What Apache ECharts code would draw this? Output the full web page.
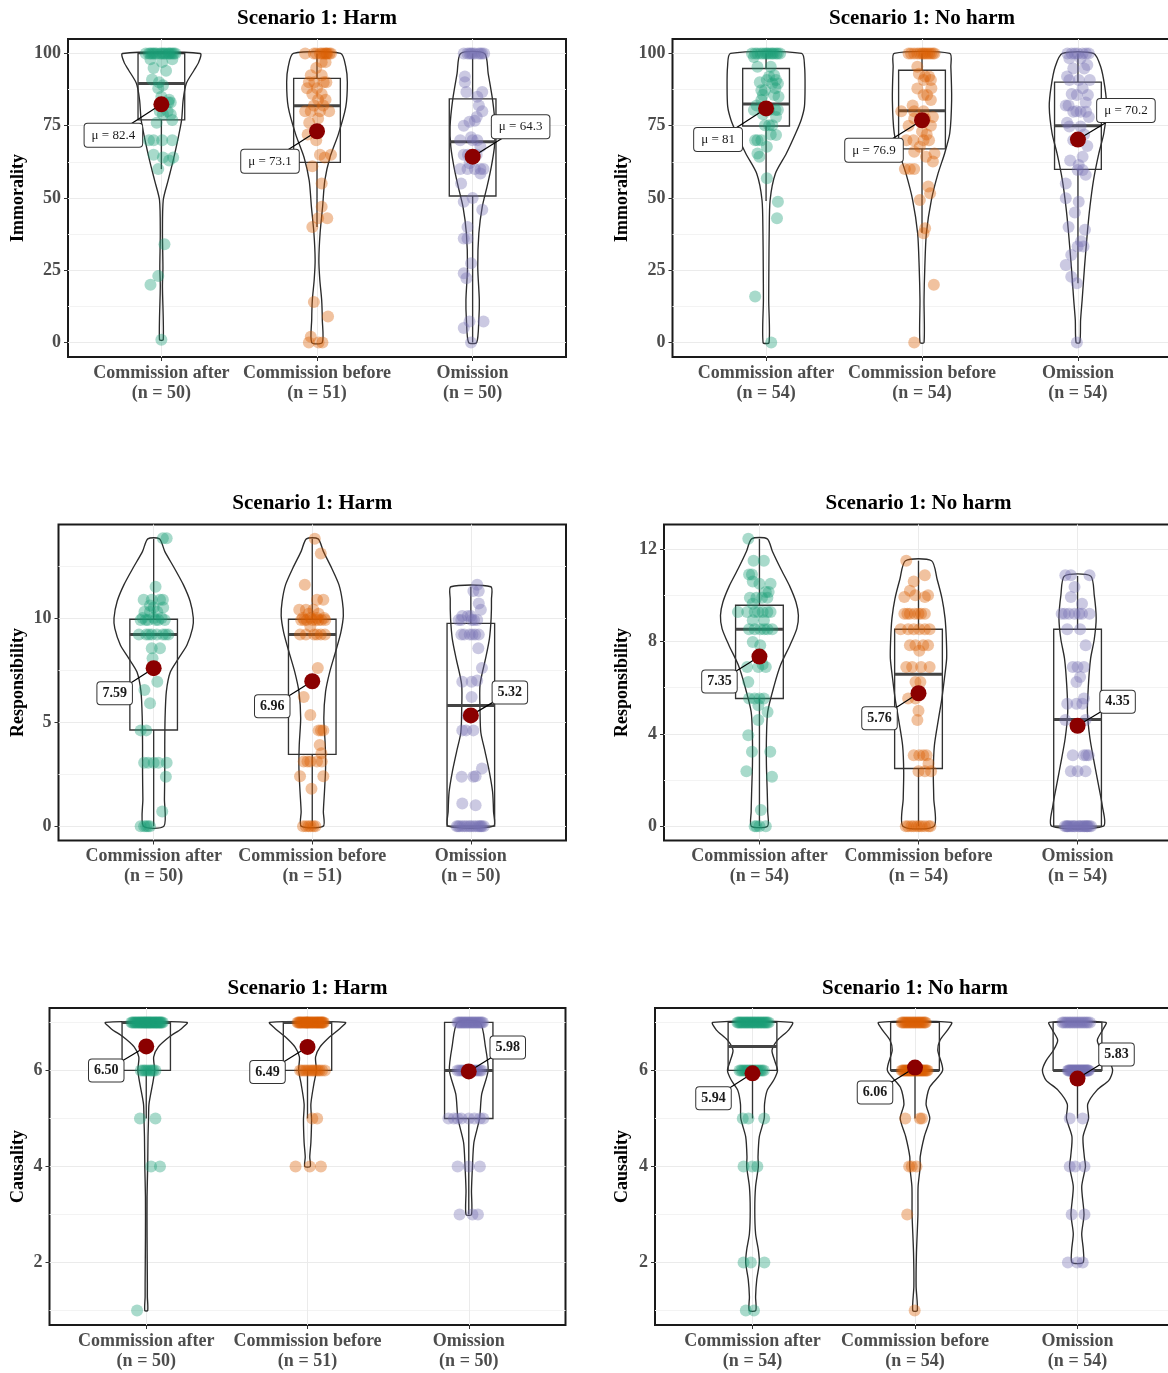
<!DOCTYPE html>
<html><head><meta charset="utf-8">
<script src="https://cdn.jsdelivr.net/npm/echarts@6/dist/echarts.min.js"></script>
<style>html,body{margin:0;padding:0;background:#fff}#c{width:1168px;height:1373px}</style>
</head><body><div id="c"></div>
<script>
// ---------------- DATA ----------------
const categories = ['Commission after', 'Commission before', 'Omission'];
const nHarm = [50, 51, 50];
const nNoHarm = [54, 54, 54];

const immTicks = [0, 25, 50, 75, 100];
const immMinor = [12.5, 37.5, 62.5, 87.5];
const respHarmTicks = [0, 5, 10];
const respHarmMinor = [2.5, 7.5, 12.5];
const respNoHarmTicks = [0, 4, 8, 12];
const respNoHarmMinor = [2, 6, 10];
const causTicks = [2, 4, 6];
const causMinor = [1, 3, 5, 7];

// means
const immHarmMean = [82.4, 73.1, 64.3];
const immNoHarmMean = [81, 76.9, 70.2];
const respHarmMean = [7.59, 6.96, 5.32];
const respNoHarmMean = [7.35, 5.76, 4.35];
const causHarmMean = [6.50, 6.49, 5.98];
const causNoHarmMean = [5.94, 6.06, 5.83];

// boxplot stats: [lower whisker, Q1, median, Q3, upper whisker]
const immHarmBox = [[60, 77, 89.6, 100, 100], [40, 62.3, 81.9, 91.4, 100], [0, 50.7, 69.5, 84.3, 100]];
const immNoHarmBox = [[49, 74.9, 82.5, 94.8, 100], [38, 67, 80.2, 94.2, 100], [20.5, 59.9, 75, 90.1, 100]];
const respHarmBox = [[0, 4.62, 9.21, 9.94, 13.8], [0, 3.45, 9.21, 9.94, 13.8], [0, 0, 5.79, 9.74, 11.5]];
const respNoHarmBox = [[0, 5.53, 8.53, 9.57, 12.45], [0, 2.5, 6.58, 8.53, 11.5], [0, 0, 4.62, 8.53, 10.84]];
const causHarmBox = [[5, 6, 7, 7, 7], [5, 6, 7, 7, 7], [3, 5, 6, 7, 7]];
const causNoHarmBox = [[5, 6, 6.5, 7, 7], [5, 6, 6, 7, 7], [5, 6, 6, 7, 7]];

// violin profiles: [value, half-width in category units]
const immHarmViolinCA = [[1,0.012],[19.4,0.007],[26,0.01],[37.8,0.007],[49.3,0.012],[56,0.043],[63,0.076],[70,0.105],[77,0.13],[83.9,0.14],[89.6,0.16],[94.2,0.21],[97,0.24],[100,0.25]];
const immHarmViolinCB = [[0,0.034],[8,0.034],[14.7,0.03],[21.7,0.018],[28.6,0.012],[38,0.02],[47,0.036],[56,0.05],[64,0.083],[72,0.137],[81.5,0.185],[90,0.195],[95.4,0.185],[100,0.152]];
const immHarmViolinOm = [[0,0.026],[8,0.04],[14.7,0.043],[26,0.033],[37.8,0.04],[47,0.062],[54,0.093],[60.8,0.12],[67.7,0.14],[74.6,0.145],[84,0.128],[93,0.1],[100,0.077]];
const immNoHarmViolinCA = [[0,0.019],[14.7,0.017],[26,0.018],[37.8,0.02],[49.3,0.026],[58.5,0.06],[65.4,0.13],[72.4,0.19],[77,0.225],[81.6,0.246],[88.5,0.25],[95.4,0.247],[100,0.228]];
const immNoHarmViolinCB = [[0,0.013],[14.7,0.013],[26,0.018],[37.8,0.028],[49.3,0.06],[58.5,0.103],[65.4,0.145],[72.4,0.178],[83.9,0.19],[95.4,0.185],[100,0.178]];
const immNoHarmViolinOm = [[0,0.012],[7.8,0.017],[14.7,0.027],[26,0.042],[37.8,0.06],[47,0.077],[56.2,0.1],[65.4,0.134],[72.4,0.166],[81.6,0.184],[88.5,0.172],[95.4,0.146],[100,0.1]];
const respHarmViolinCA = [[0,0.065],[1.3,0.068],[2.6,0.07],[3.9,0.07],[5.2,0.072],[6.46,0.08],[7.4,0.105],[8.06,0.157],[8.7,0.21],[9.5,0.245],[10,0.25],[10.8,0.23],[11.6,0.187],[12.4,0.13],[13.2,0.07],[13.8,0.037]];
const respHarmViolinCB = [[0,0.07],[0.69,0.07],[1.65,0.077],[2.77,0.084],[3.9,0.082],[5.2,0.073],[6.46,0.084],[7.4,0.11],[8.4,0.148],[9.3,0.18],[10.1,0.196],[10.8,0.19],[11.6,0.168],[12.4,0.122],[13.2,0.07],[13.8,0.037]];
const respHarmViolinOm = [[0,0.143],[0.7,0.143],[1.65,0.137],[2.6,0.117],[3.57,0.09],[4.5,0.063],[5.5,0.058],[6.8,0.058],[8.06,0.093],[9.0,0.117],[10.0,0.128],[10.9,0.13],[11.5,0.126]];
const respNoHarmViolinCA = [[0,0.051],[0.62,0.052],[1.49,0.049],[2.64,0.044],[3.8,0.044],[4.95,0.052],[6.1,0.093],[7.0,0.134],[7.84,0.192],[8.56,0.235],[9.13,0.245],[9.7,0.23],[10.4,0.19],[11.15,0.134],[11.9,0.082],[12.45,0.049]];
const respNoHarmViolinCB = [[0,0.098],[1.2,0.096],[2.35,0.093],[3.5,0.1],[4.66,0.126],[5.53,0.147],[6.4,0.163],[7.27,0.177],[8.1,0.175],[9.0,0.167],[9.86,0.148],[10.7,0.117],[11.5,0.082]];
const respNoHarmViolinOm = [[0,0.163],[0.9,0.155],[1.77,0.132],[2.64,0.108],[3.8,0.078],[4.95,0.062],[6.1,0.068],[7.26,0.082],[8.1,0.105],[9.0,0.117],[10.0,0.105],[10.84,0.082]];
const causHarmViolinCA = [[1,0.009],[1.29,0.007],[1.57,0.007],[2.54,0.005],[3.37,0.005],[4.0,0.009],[4.62,0.011],[4.97,0.014],[5.3,0.017],[5.73,0.04],[6.0,0.052],[6.28,0.046],[6.49,0.075],[6.7,0.144],[6.87,0.218],[7,0.253]];
const causHarmViolinCB = [[4,0.017],[4.2,0.014],[4.5,0.021],[4.97,0.025],[5.3,0.021],[5.73,0.04],[6.0,0.055],[6.28,0.05],[6.49,0.078],[6.7,0.138],[6.87,0.2],[7,0.235]];
const causHarmViolinOm = [[3,0.017],[3.5,0.017],[4,0.023],[4.5,0.032],[5,0.067],[5.5,0.08],[6,0.12],[6.5,0.103],[7,0.069]];
const causNoHarmViolinCA = [[1,0.02],[1.29,0.019],[1.64,0.026],[2,0.042],[2.26,0.036],[2.6,0.019],[3.1,0.014],[3.58,0.019],[4,0.036],[4.2,0.034],[4.62,0.042],[5,0.072],[5.3,0.074],[5.59,0.091],[5.8,0.131],[6,0.154],[6.2,0.137],[6.42,0.12],[6.63,0.154],[6.84,0.222],[7,0.245]];
const causNoHarmViolinCB = [[1,0.014],[1.5,0.007],[2.2,0.009],[3,0.018],[3.58,0.019],[4,0.032],[4.2,0.032],[4.62,0.057],[5,0.091],[5.3,0.068],[5.65,0.09],[6,0.17],[6.42,0.14],[6.63,0.154],[6.84,0.2],[7,0.224]];
const causNoHarmViolinOm = [[2,0.034],[2.26,0.036],[2.6,0.026],[3,0.04],[3.58,0.026],[4,0.049],[4.2,0.042],[4.62,0.034],[5,0.068],[5.3,0.063],[5.59,0.12],[5.8,0.194],[6,0.216],[6.2,0.194],[6.42,0.148],[6.63,0.122],[6.84,0.154],[7,0.175]];

// individual responses: [value, horizontal jitter in category units]
const immHarmPtsCA = [[100,-0.10],[100,-0.08],[100,-0.07],[100,-0.05],[100,-0.04],[100,-0.03],[100,-0.01],[100,0.00],[100,0.01],[100,0.02],[100,0.03],[100,0.045],[100,0.06],[100,0.07],[100,0.08],[100,0.09],[100,-0.06],[100,0.05],[98,-0.07],[97,0.005],[98,0.07],[95,-0.05],[94,0.03],[91,-0.06],[90,-0.015],[88,-0.02],[89,0.01],[85,0.0],[84,0.05],[83,0.045],[83,0.06],[80,-0.01],[80,0.04],[79,0.01],[79,0.06],[76,-0.03],[77,0.07],[70,-0.05],[70,0.005],[70,0.07],[70,-0.08],[65,-0.05],[64,0.01],[64,0.076],[63,0.05],[60,-0.02],[34,0.02],[23,-0.02],[20,-0.07],[1,0]];
const immHarmPtsCB = [[100,-0.076],[100,-0.005],[100,0.019],[100,0.043],[100,0.067],[100,0.09],[100,0.03],[100,0.055],[100,-0.02],[100,0.08],[100,0.06],[97,0.03],[97,0.055],[95,-0.005],[92.5,-0.04],[92.5,0.03],[90,-0.052],[90,-0.017],[90,0.043],[90,0.06],[88,-0.064],[88,0.0],[86,-0.03],[86,0.03],[84,0.007],[84,0.055],[82,-0.02],[82,0.04],[80,-0.076],[80,-0.04],[80,0.019],[80,0.078],[77.5,0.007],[76,-0.05],[72,-0.06],[70,-0.005],[65,0.019],[65,0.09],[64,0.05],[61,-0.03],[55,0.03],[47,0.03],[43,0.007],[43,0.066],[40,-0.03],[14,-0.02],[9,0.071],[2,-0.04],[0,-0.052],[0,0.035],[0,0.01]];
const immHarmPtsOm = [[100,-0.057],[100,-0.033],[100,0.014],[100,0.038],[100,0.074],[100,-0.01],[100,0.05],[100,0.0],[100,0.06],[100,-0.02],[90,-0.05],[92,-0.05],[86.7,-0.04],[86.7,0.062],[85,0.03],[82,0.04],[80,0.062],[78,0.026],[76.7,0.014],[76.4,-0.02],[75,-0.057],[71,-0.01],[70,-0.08],[70,0.03],[70,0.0],[67.7,0.05],[65,-0.057],[65,0.026],[65,-0.03],[62,-0.02],[60,-0.08],[60,-0.033],[60,0.014],[60,0.05],[60,0.07],[58.5,0.05],[55,-0.074],[50,0.0],[48.7,-0.057],[45.9,0.062],[40,-0.033],[36,-0.057],[36,-0.033],[27.4,-0.01],[24,-0.057],[22.2,-0.04],[7.3,-0.02],[7.3,0.07],[5,-0.057],[0,-0.01]];

const immNoHarmPtsCA = [[100,-0.09],[100,-0.055],[100,-0.02],[100,0.005],[100,0.03],[100,0.05],[100,0.075],[100,-0.07],[100,-0.035],[100,0.015],[100,0.04],[100,0.065],[100,0.09],[100,-0.005],[98.8,-0.078],[95.4,-0.055],[95.4,0.03],[92.5,0.052],[92,0.02],[90.8,0.005],[90.8,0.064],[90,-0.04],[89.6,0.04],[89.6,0.076],[88,0.06],[87.3,-0.03],[87.3,-0.007],[85.6,-0.02],[85.6,0.052],[85,0.08],[83.9,-0.03],[82,-0.06],[80.4,-0.078],[80.4,0.076],[80.4,0.02],[80.4,0.06],[79,-0.02],[78,0.064],[75.2,-0.007],[75.2,0.04],[75.2,0.02],[72,0.03],[71.8,0.064],[70,-0.07],[70,-0.055],[70,-0.03],[67.7,0.005],[65.4,-0.055],[64.3,-0.043],[56.8,0.005],[48.7,0.076],[43,0.07],[15.9,-0.07],[0,0.033]];
const immNoHarmPtsCB = [[100,-0.086],[100,-0.05],[100,-0.014],[100,0.01],[100,0.033],[100,0.057],[100,0.08],[100,-0.07],[100,-0.03],[100,0.02],[100,0.045],[100,0.07],[100,0.0],[95.4,-0.03],[93,-0.02],[92,0.02],[92,0.045],[90.8,0.01],[90.8,0.057],[88,0.06],[87.9,-0.03],[85.6,0.01],[85.6,0.033],[83.9,0.057],[82,-0.06],[80,-0.133],[80,-0.05],[80,0.01],[78,0.07],[77.5,-0.05],[77.5,0.02],[75,-0.086],[75,0.057],[73,0.0],[72,0.03],[70,-0.1],[70,-0.055],[70,0.01],[70,0.045],[67.7,-0.014],[66,-0.05],[65.4,0.08],[64.3,0.026],[62.6,0.07],[60,-0.11],[60,-0.078],[60,-0.05],[54,0.04],[51.6,0.052],[49.3,-0.014],[39.5,0.02],[37.8,0.01],[20,0.076],[0,-0.05]];
const immNoHarmPtsOm = [[100,-0.067],[100,-0.002],[100,0.052],[100,-0.04],[100,0.03],[100,0.07],[100,-0.02],[98.3,-0.055],[98.3,0.017],[96,0.06],[94.8,-0.03],[94.8,0.04],[92,-0.07],[90.8,-0.055],[90.8,0.005],[90.8,0.076],[88,0.03],[86,-0.04],[85.6,-0.007],[85.6,0.064],[83,0.05],[82,-0.078],[82,-0.06],[80,-0.01],[79.8,-0.03],[79.8,0.017],[79.8,0.052],[78,0.07],[76,-0.07],[74.7,-0.055],[74.7,0.017],[72,0.04],[70,-0.03],[68,0.06],[64.3,0.03],[63,-0.05],[61.4,0.005],[59.7,-0.002],[59.7,0.03],[58,0.05],[55,-0.078],[49.9,-0.078],[48.7,0.005],[45,-0.02],[40,-0.06],[39,0.045],[35,0.02],[33.2,-0.002],[33.2,0.036],[30.3,-0.043],[26.8,-0.078],[22.8,-0.043],[20.5,-0.007],[0,-0.007]];

const respHarmPtsCA = [[13.83,0.058],[13.83,0.082],[11.5,0.012],[10.87,-0.063],[10.87,-0.012],[10.87,0.04],[10.87,0.058],[10.6,-0.023],[10.5,0.0],[10.5,0.06],[10.3,-0.058],[10.3,-0.023],[10.3,0.023],[10,-0.07],[10,0.0],[10,0.05],[9.9,-0.082],[9.9,-0.035],[9.9,0.012],[9.9,0.07],[9.9,-0.05],[9.9,0.03],[9.2,-0.093],[9.2,-0.047],[9.2,-0.012],[9.2,0.058],[9.2,0.093],[9.2,-0.03],[9.2,0.02],[9.2,0.075],[8.54,-0.012],[8.54,0.04],[8.06,-0.007],[6.94,0.023],[6.54,-0.058],[5.9,-0.023],[4.6,-0.082],[4.6,-0.047],[3.04,-0.035],[3.04,0.03],[3.04,0.082],[3.04,-0.06],[3.04,0.0],[2.37,0.077],[0.7,0.054],[0,-0.082],[0,-0.047],[0,-0.023],[0,-0.06],[0,-0.035]];
const respHarmPtsCB = [[13.8,0.016],[13.1,0.054],[11.6,-0.047],[10.87,0.03],[10.87,0.07],[10.4,-0.082],[10.4,-0.04],[10.4,0.007],[10.2,-0.023],[10.2,0.04],[10,-0.06],[10,-0.01],[10,0.03],[10,0.075],[9.9,-0.07],[9.9,-0.035],[9.9,0.023],[9.9,0.058],[9.9,0.082],[9.9,-0.05],[9.9,0.0],[9.9,0.04],[9.6,-0.012],[9.2,-0.077],[9.2,0.012],[9.2,0.054],[9.2,-0.04],[9.2,0.03],[9.2,0.08],[7.6,0.035],[6.2,-0.054],[5.34,-0.012],[4.6,0.04],[4.6,0.07],[4.6,0.055],[3.9,0.047],[3.5,0.058],[3.1,-0.054],[3.1,-0.012],[3.1,0.03],[3.1,0.06],[3.1,-0.03],[2.4,-0.077],[2.4,0.07],[1.8,-0.005],[0,-0.058],[0,-0.023],[0,0.007],[0,-0.04],[0,0.02],[0,-0.01]];
const respHarmPtsOm = [[11.6,0.04],[11.3,0.016],[11.3,0.05],[10.7,0.05],[10.4,0.063],[10.1,-0.054],[10.1,-0.019],[10.1,0.0],[9.9,-0.077],[9.9,0.005],[9.9,0.04],[9.9,-0.06],[9.9,0.02],[9.2,-0.042],[9.2,-0.007],[9.2,0.028],[9.2,-0.06],[9.2,0.01],[9.2,0.05],[8.54,0.047],[7.6,0.07],[7,0.04],[6.94,-0.054],[6.94,0.005],[6.2,0.005],[5.3,-0.02],[4.6,-0.054],[4.6,0.016],[4.6,-0.03],[2.77,0.07],[2.4,0.03],[2.37,-0.058],[2.37,0.016],[1.09,-0.054],[1,0.03],[0,-0.089],[0,-0.054],[0,-0.026],[0,0.016],[0,0.063],[0,0.082],[0,-0.07],[0,-0.04],[0,-0.01],[0,0.0],[0,0.03],[0,0.045],[0,0.07],[0,-0.08],[0,0.055]];

const respNoHarmPtsCA = [[12.45,-0.07],[11.5,-0.037],[11.5,0.028],[10.9,-0.065],[10.9,-0.047],[10.6,-0.042],[10.5,0.0],[10.5,0.07],[10.15,0.04],[10.15,0.058],[9.9,-0.019],[9.9,0.016],[9.9,-0.06],[9.9,0.05],[9.64,-0.042],[9.28,-0.135],[9.28,-0.077],[9.28,-0.007],[9.28,0.07],[9.28,-0.03],[9.28,0.02],[9.28,0.05],[8.92,-0.042],[8.92,0.028],[8.53,-0.065],[8.53,0.005],[8.53,0.051],[8.53,-0.03],[8.53,0.03],[8.53,0.08],[7.98,-0.042],[7.84,0.005],[7,0.02],[6.9,-0.077],[6.9,-0.007],[6.9,0.04],[6.25,-0.07],[5.53,-0.065],[5.53,0.028],[5.53,0.0],[5.53,-0.03],[5.24,-0.007],[4.95,0.051],[4.6,-0.007],[3.94,-0.07],[3.22,-0.047],[3.22,0.068],[2.38,-0.082],[2.14,0.079],[0.7,0.009],[0,-0.019],[0,0.04],[0,0.0],[0,-0.03]];
const respNoHarmPtsCB = [[11.5,-0.077],[10.87,0.04],[10.6,-0.03],[10.2,-0.054],[10,-0.02],[10,0.06],[9.93,-0.089],[9.93,0.04],[9.2,-0.089],[9.2,-0.054],[9.2,-0.023],[9.2,0.016],[9.2,0.04],[9.2,-0.07],[9.2,0.0],[8.53,-0.112],[8.53,-0.065],[8.53,0.005],[8.53,0.04],[8.53,-0.03],[8.53,0.07],[7.84,-0.054],[7.84,-0.019],[7.84,0.03],[7.84,0.06],[7.6,0.005],[6.9,-0.077],[6.9,0.016],[6.9,0.07],[6.9,-0.04],[6.25,-0.019],[6.25,0.012],[5.53,-0.065],[5.53,-0.019],[5,0.0],[4.6,-0.007],[3.07,0.005],[3.07,0.051],[3.07,-0.03],[3.07,0.03],[2.7,0.063],[2.38,0.0],[2.38,0.04],[2.38,0.079],[0,-0.065],[0,-0.03],[0,0.005],[0,0.04],[0,0.063],[0,-0.08],[0,-0.045],[0,-0.01],[0,0.02],[0,0.075]];
const respNoHarmPtsOm = [[10.87,-0.077],[10.87,-0.042],[10.87,0.075],[10.36,-0.019],[9.93,-0.042],[9.64,0.028],[9.2,-0.1],[9.2,-0.054],[9.2,-0.019],[9.2,0.028],[9.2,0.075],[9.2,-0.08],[9.2,0.01],[8.53,-0.065],[8.53,0.016],[7.84,0.051],[6.9,-0.03],[6.9,0.04],[6.9,0.0],[6.46,0.016],[6.25,-0.007],[5.53,0.04],[5.3,-0.065],[5.3,-0.007],[5.3,0.03],[4.6,-0.077],[4.6,0.05],[3.07,0.04],[3.07,0.07],[3.07,0.055],[3.07,-0.03],[2.38,-0.042],[2.38,0.0],[2.38,0.05],[0,-0.065],[0,-0.03],[0,0.005],[0,0.04],[0,0.075],[0,-0.08],[0,-0.05],[0,-0.015],[0,0.02],[0,0.055],[0,0.085],[0,-0.04],[0,0.01],[0,0.03],[0,0.065],[0,-0.06],[0,-0.02],[0,0.045],[0,-0.07],[0,0.06]];

const causHarmPtsCA = [[7,-0.092],[7,-0.085],[7,-0.078],[7,-0.07],[7,-0.066],[7,-0.058],[7,-0.052],[7,-0.047],[7,-0.04],[7,-0.034],[7,-0.03],[7,-0.024],[7,-0.018],[7,-0.012],[7,-0.008],[7,-0.003],[7,0.002],[7,0.008],[7,0.012],[7,0.018],[7,0.023],[7,0.027],[7,0.033],[7,0.038],[7,0.044],[7,0.049],[7,0.055],[7,0.06],[7,0.064],[7,0.07],[7,0.075],[7,0.081],[7,0.086],[7,0.09],[7,0.096],[7,0.103],[6,-0.034],[6,-0.02],[6,0.0],[6,0.012],[6,0.025],[6,0.035],[6,0.045],[6,0.057],[6,-0.01],[5,-0.039],[5,0.057],[4,0.03],[4,0.085],[1,-0.057]];
const causHarmPtsCB = [[7,-0.062],[7,-0.056],[7,-0.05],[7,-0.045],[7,-0.04],[7,-0.034],[7,-0.028],[7,-0.022],[7,-0.017],[7,-0.011],[7,-0.006],[7,0.0],[7,0.004],[7,0.01],[7,0.015],[7,0.021],[7,0.026],[7,0.031],[7,0.037],[7,0.042],[7,0.048],[7,0.053],[7,0.058],[7,0.063],[7,0.068],[7,0.073],[7,0.078],[7,0.083],[7,0.088],[7,0.092],[7,0.097],[7,0.102],[7,-0.003],[6,-0.046],[6,-0.035],[6,-0.02],[6,-0.008],[6,0.005],[6,0.018],[6,0.03],[6,0.04],[6,0.052],[6,0.064],[6,0.075],[6,0.09],[6,0.108],[5,0.03],[5,0.06],[4,-0.074],[4,0.014],[4,0.083]];
const causHarmPtsOm = [[7,-0.07],[7,-0.062],[7,-0.055],[7,-0.047],[7,-0.04],[7,-0.032],[7,-0.025],[7,-0.017],[7,-0.01],[7,-0.002],[7,0.006],[7,0.013],[7,0.021],[7,0.028],[7,0.036],[7,0.043],[7,0.051],[7,0.058],[7,0.066],[7,0.073],[7,0.081],[7,0.088],[6,-0.07],[6,-0.058],[6,-0.046],[6,-0.035],[6,-0.023],[6,-0.011],[6,0.0],[6,0.012],[6,0.024],[6,0.035],[6,0.047],[6,0.058],[6,0.07],[6,0.08],[5,-0.126],[5,-0.092],[5,-0.069],[5,-0.046],[5,0.0],[5,0.035],[5,0.069],[5,0.09],[4,-0.069],[4,0.0],[4,0.069],[3,-0.057],[3,0.023],[3,0.057]];

const causNoHarmPtsCA = [[7,-0.093],[7,-0.086],[7,-0.078],[7,-0.071],[7,-0.064],[7,-0.056],[7,-0.049],[7,-0.041],[7,-0.034],[7,-0.027],[7,-0.019],[7,-0.012],[7,-0.005],[7,0.003],[7,0.01],[7,0.017],[7,0.025],[7,0.032],[7,0.039],[7,0.047],[7,0.054],[7,0.061],[7,0.069],[7,0.076],[7,0.083],[7,0.091],[7,0.1],[6,-0.08],[6,-0.07],[6,-0.06],[6,-0.05],[6,-0.04],[6,-0.03],[6,-0.02],[6,-0.01],[6,0.0],[6,0.01],[6,0.02],[6,0.03],[6,0.04],[6,0.05],[6,0.06],[6,0.07],[5,-0.06],[5,-0.025],[5,0.072],[4,-0.055],[4,-0.002],[4,0.03],[2,-0.055],[2,-0.01],[2,0.073],[1,-0.041],[1,0.009]];
const causNoHarmPtsCB = [[7,-0.082],[7,-0.074],[7,-0.066],[7,-0.058],[7,-0.05],[7,-0.043],[7,-0.035],[7,-0.027],[7,-0.019],[7,-0.011],[7,-0.003],[7,0.005],[7,0.013],[7,0.021],[7,0.028],[7,0.036],[7,0.044],[7,0.052],[7,0.06],[7,0.066],[6,-0.082],[6,-0.075],[6,-0.069],[6,-0.062],[6,-0.056],[6,-0.05],[6,-0.043],[6,-0.037],[6,-0.031],[6,-0.024],[6,-0.018],[6,-0.011],[6,-0.005],[6,0.001],[6,0.008],[6,0.014],[6,0.02],[6,0.027],[6,0.033],[6,0.04],[6,0.046],[6,0.052],[6,0.059],[6,0.065],[6,0.072],[6,0.078],[5,-0.06],[5,0.043],[5,0.03],[4,-0.036],[4,0.009],[4,-0.02],[3,-0.048],[1,-0.002]];
const causNoHarmPtsOm = [[7,-0.093],[7,-0.083],[7,-0.072],[7,-0.062],[7,-0.051],[7,-0.041],[7,-0.03],[7,-0.02],[7,-0.009],[7,0.001],[7,0.012],[7,0.022],[7,0.033],[7,0.043],[7,0.054],[7,0.064],[7,0.077],[6,-0.059],[6,-0.054],[6,-0.049],[6,-0.044],[6,-0.039],[6,-0.034],[6,-0.029],[6,-0.024],[6,-0.019],[6,-0.014],[6,-0.009],[6,-0.004],[6,0.001],[6,0.006],[6,0.011],[6,0.016],[6,0.021],[6,0.026],[6,0.031],[6,0.036],[6,0.041],[6,0.046],[6,0.051],[6,0.056],[6,0.061],[6,0.066],[6,0.07],[5,-0.048],[5,0.032],[4,-0.048],[4,-0.014],[4,0.043],[3,-0.036],[3,0.043],[2,-0.059],[2,-0.002],[2,0.032]];

// ---------------- LAYOUT / STYLE ----------------
const FONT = '"Liberation Serif","Times New Roman",serif';
const GROUP_COLORS = ['#1B9E77', '#D95F02', '#7570B3'];
const MEAN_COLOR = '#8B0000';
const BOX_HALF = 0.15;

const panels = [
  { title: 'Scenario 1: Harm', yName: 'Immorality', n: nHarm, mean: immHarmMean, box: immHarmBox,
    violins: [immHarmViolinCA, immHarmViolinCB, immHarmViolinOm], pts: [immHarmPtsCA, immHarmPtsCB, immHarmPtsOm],
    ticks: immTicks, minor: immMinor, yMin: -5, yMax: 105, mu: true,
    rect: { left: 68, top: 39, width: 498, height: 318 }, titleY: 19, nameGap: 41,
    offsets: [[-48, 31], [-47, 30], [48, -30]] },
  { title: 'Scenario 1: No harm', yName: 'Immorality', n: nNoHarm, mean: immNoHarmMean, box: immNoHarmBox,
    violins: [immNoHarmViolinCA, immNoHarmViolinCB, immNoHarmViolinOm], pts: [immNoHarmPtsCA, immNoHarmPtsCB, immNoHarmPtsOm],
    ticks: immTicks, minor: immMinor, yMin: -5, yMax: 105, mu: true,
    rect: { left: 672.5, top: 39, width: 499, height: 318 }, titleY: 19, nameGap: 41,
    offsets: [[-48, 31], [-48, 30], [48, -29]] },
  { title: 'Scenario 1: Harm', yName: 'Responsibility', n: nHarm, mean: respHarmMean, box: respHarmBox,
    violins: [respHarmViolinCA, respHarmViolinCB, respHarmViolinOm], pts: [respHarmPtsCA, respHarmPtsCB, respHarmPtsOm],
    ticks: respHarmTicks, minor: respHarmMinor, yMin: -0.69, yMax: 14.49, mu: false,
    rect: { left: 58.5, top: 524.5, width: 507.5, height: 316 }, titleY: 504, nameGap: 31.5,
    offsets: [[-39, 25], [-40, 25], [39, -23]] },
  { title: 'Scenario 1: No harm', yName: 'Responsibility', n: nNoHarm, mean: respNoHarmMean, box: respNoHarmBox,
    violins: [respNoHarmViolinCA, respNoHarmViolinCB, respNoHarmViolinOm], pts: [respNoHarmPtsCA, respNoHarmPtsCB, respNoHarmPtsOm],
    ticks: respNoHarmTicks, minor: respNoHarmMinor, yMin: -0.62, yMax: 13.07, mu: false,
    rect: { left: 664, top: 524.5, width: 509, height: 316 }, titleY: 504, nameGap: 33,
    offsets: [[-40, 25], [-39, 25], [40, -24]] },
  { title: 'Scenario 1: Harm', yName: 'Causality', n: nHarm, mean: causHarmMean, box: causHarmBox,
    violins: [causHarmViolinCA, causHarmViolinCB, causHarmViolinOm], pts: [causHarmPtsCA, causHarmPtsCB, causHarmPtsOm],
    ticks: causTicks, minor: causMinor, yMin: 0.7, yMax: 7.3, mu: false,
    rect: { left: 49.5, top: 1008, width: 516, height: 317 }, titleY: 989, nameGap: 22.5,
    offsets: [[-40, 24], [-40, 25], [39, -24]] },
  { title: 'Scenario 1: No harm', yName: 'Causality', n: nNoHarm, mean: causNoHarmMean, box: causNoHarmBox,
    violins: [causNoHarmViolinCA, causNoHarmViolinCB, causNoHarmViolinOm], pts: [causNoHarmPtsCA, causNoHarmPtsCB, causNoHarmPtsOm],
    ticks: causTicks, minor: causMinor, yMin: 0.7, yMax: 7.3, mu: false,
    rect: { left: 655, top: 1008, width: 520, height: 317 }, titleY: 989, nameGap: 24,
    offsets: [[-39, 25], [-40, 25], [39, -24]] }
];

// ---------------- BUILD ----------------
const grid = [], xAxis = [], yAxis = [], series = [], graphic = [];
panels.forEach((P, i) => {
  grid.push({ left: P.rect.left, top: P.rect.top, width: P.rect.width, height: P.rect.height,
    show: true, borderColor: '#1a1a1a', borderWidth: 2, backgroundColor: '#fff', containLabel: false, outerBoundsMode: 'none' });
  xAxis.push({ gridIndex: i, type: 'value', min: 0.4, max: 3.6,
    axisLine: { show: false, onZero: false },
    axisTick: { show: true, customValues: [1, 2, 3], length: 4, lineStyle: { color: '#333', width: 1 } },
    axisLabel: { customValues: [1, 2, 3], hideOverlap: false, margin: 6,
      formatter: v => categories[Math.round(v) - 1] + '\n(n = ' + P.n[Math.round(v) - 1] + ')',
      fontFamily: FONT, fontWeight: 'bold', fontSize: 18, color: '#4D4D4D', lineHeight: 20 },
    splitLine: { show: true, lineStyle: { color: '#EBEBEB', width: 1 } } });
  // minor grid axis
  yAxis.push({ gridIndex: i, type: 'value', min: P.yMin, max: P.yMax, position: 'left',
    axisLine: { show: false, onZero: false }, axisTick: { show: false, customValues: P.minor },
    axisLabel: { show: false, customValues: P.minor },
    splitLine: { show: true, lineStyle: { color: '#F3F3F3', width: 1 } } });
  // major axis with labels
  yAxis.push({ gridIndex: i, type: 'value', min: P.yMin, max: P.yMax, position: 'left',
    axisLine: { show: false, onZero: false },
    axisTick: { show: true, customValues: P.ticks, length: 4, lineStyle: { color: '#333', width: 1 } },
    axisLabel: { customValues: P.ticks, margin: 7, fontFamily: FONT, fontWeight: 'bold', fontSize: 18, color: '#4D4D4D' },
    splitLine: { show: true, lineStyle: { color: '#EBEBEB', width: 1 } },
    name: P.yName, nameLocation: 'middle', nameGap: P.nameGap,
    nameTextStyle: { fontFamily: FONT, fontWeight: 'bold', fontSize: 18, color: '#000' } });
  const xi = i, yi = 2 * i + 1;

  // violins
  series.push({ type: 'custom', xAxisIndex: xi, yAxisIndex: yi, silent: true, z: 2, clip: false,
    data: [[1, P.box[0][2]], [2, P.box[1][2]], [3, P.box[2][2]]], encode: { x: 0, y: 1 },
    renderItem: (params, api) => {
      const g = params.dataIndex, cx = g + 1, prof = P.violins[g];
      const right = prof.map(([v, w]) => api.coord([cx + w, v]));
      const left = prof.slice().reverse().map(([v, w]) => api.coord([cx - w, v]));
      return { type: 'polygon', shape: { points: right.concat(left), smooth: 0.25 },
        style: { fill: 'none', stroke: '#2b2b2b', lineWidth: 1.35 } };
    } });

  // boxes
  series.push({ type: 'custom', xAxisIndex: xi, yAxisIndex: yi, silent: true, z: 3, clip: false,
    data: [[1, P.box[0][2]], [2, P.box[1][2]], [3, P.box[2][2]]], encode: { x: 0, y: 1 },
    renderItem: (params, api) => {
      const g = params.dataIndex, cx = g + 1;
      const [lo, q1, med, q3, hi] = P.box[g];
      const tl = api.coord([cx - BOX_HALF, q3]), br = api.coord([cx + BOX_HALF, q1]);
      const ml = api.coord([cx - BOX_HALF, med]), mr = api.coord([cx + BOX_HALF, med]);
      const top = api.coord([cx, hi]), q3c = api.coord([cx, q3]), q1c = api.coord([cx, q1]), bot = api.coord([cx, lo]);
      const st = { stroke: '#333', lineWidth: 1.35, fill: 'none' };
      return { type: 'group', children: [
        { type: 'line', shape: { x1: top[0], y1: top[1], x2: q3c[0], y2: q3c[1] }, style: st },
        { type: 'line', shape: { x1: q1c[0], y1: q1c[1], x2: bot[0], y2: bot[1] }, style: st },
        { type: 'rect', shape: { x: tl[0], y: tl[1], width: br[0] - tl[0], height: br[1] - tl[1] }, style: st },
        { type: 'line', shape: { x1: ml[0], y1: ml[1], x2: mr[0], y2: mr[1] }, style: { stroke: '#444', lineWidth: 3 } }
      ] };
    } });

  // jittered responses
  P.pts.forEach((pts, g) => {
    series.push({ type: 'scatter', xAxisIndex: xi, yAxisIndex: yi, silent: true, z: 4,
      symbol: 'circle', symbolSize: 12,
      itemStyle: { color: GROUP_COLORS[g], opacity: 0.38, borderWidth: 0 },
      data: pts.map(([v, j]) => [g + 1 + j, v]) });
  });

  // mean labels (segment + box)
  series.push({ type: 'custom', xAxisIndex: xi, yAxisIndex: yi, silent: true, z: 4.5, clip: false,
    data: P.mean.map((m, g) => [g + 1, m]), encode: { x: 0, y: 1 },
    renderItem: (params, api) => {
      const g = params.dataIndex, m = P.mean[g];
      const p = api.coord([g + 1, m]);
      const [dx, dy] = P.offsets[g];
      const lx = p[0] + dx, ly = p[1] + dy;
      const text = P.mu ? ('\u03bc = ' + m) : m.toFixed(2);
      return { type: 'group', children: [
        { type: 'line', shape: { x1: p[0], y1: p[1], x2: lx, y2: ly }, style: { stroke: '#000', lineWidth: 1.2 } },
        { type: 'text', x: lx, y: ly, style: { text: text,
          font: (P.mu ? 'normal 13px ' : 'bold 14px ') + FONT,
          fill: '#1a1a1a', align: 'center', verticalAlign: 'middle',
          backgroundColor: '#fff', borderColor: '#333', borderWidth: 1, borderRadius: 3,
          padding: P.mu ? [5, 7, 5, 7] : [4, 5, 4, 5] } }
      ] };
    } });

  // mean points
  series.push({ type: 'scatter', xAxisIndex: xi, yAxisIndex: yi, silent: true, z: 5,
    symbol: 'circle', symbolSize: 16, itemStyle: { color: MEAN_COLOR, opacity: 1, borderWidth: 0 },
    data: P.mean.map((m, g) => [g + 1, m]) });

  graphic.push({ type: 'text', x: P.rect.left + P.rect.width / 2, y: P.titleY,
    style: { text: P.title, font: 'bold 21px ' + FONT, fill: '#000',
      align: 'center', verticalAlign: 'middle', textAlign: 'center', textVerticalAlign: 'middle' } });
});

const chart = echarts.init(document.getElementById('c'), null, { renderer: 'canvas' });
chart.setOption({ animation: false, backgroundColor: '#fff', grid, xAxis, yAxis, series, graphic });
</script>
</body></html>
